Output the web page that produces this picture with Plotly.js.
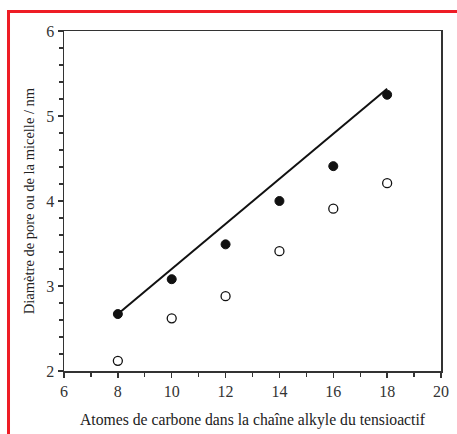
<!DOCTYPE html>
<html>
<head>
<meta charset="utf-8">
<script src="https://cdn.plot.ly/plotly-3.0.1.min.js"></script>
<style>
html,body{margin:0;padding:0;background:#fff;}
#chart{width:457px;height:434px;}
</style>
</head>
<body>
<div id="chart"></div>
<script>
var carbonAtoms = [8, 10, 12, 14, 16, 18];
var poreDiameter = [2.67, 3.08, 3.49, 4.00, 4.41, 5.25];
var micelleDiameter = [2.12, 2.62, 2.88, 3.41, 3.91, 4.21];
var fitX = [8, 18];
var fitY = [2.67, 5.32];
var xTicks = [6, 8, 10, 12, 14, 16, 18, 20];
var yTicks = [2, 3, 4, 5, 6];

var serif = "'Liberation Serif', 'Times New Roman', serif";

var traces = [
  {x: fitX, y: fitY, mode: 'lines', line: {color: '#111', width: 2}, hoverinfo: 'skip'},
  {x: carbonAtoms, y: poreDiameter, mode: 'markers',
   marker: {symbol: 'circle', size: 9, color: '#111', line: {color: '#111', width: 1}}},
  {x: carbonAtoms, y: micelleDiameter, mode: 'markers',
   marker: {symbol: 'circle-open', size: 9, color: '#111', line: {color: '#111', width: 1.3}}}
];

var layout = {
  width: 457, height: 434,
  margin: {l: 64, r: 16, t: 31, b: 63},
  paper_bgcolor: '#fff', plot_bgcolor: '#fff',
  showlegend: false,
  font: {family: serif, color: '#222'},
  xaxis: {
    range: [6, 20], tickvals: xTicks, ticktext: xTicks.map(String),
    ticks: 'outside', ticklen: 5, tickwidth: 1.5, tickcolor: '#333',
    minor: {dtick: 1, tick0: 0, ticks: 'outside', ticklen: 4, tickwidth: 1.2, tickcolor: '#333'},
    showline: true, linecolor: '#333', linewidth: 1.5, mirror: true,
    showgrid: false, zeroline: false,
    tickfont: {family: serif, size: 16, color: '#333'},
    title: {text: 'Atomes de carbone dans la chaîne alkyle du tensioactif', font: {family: serif, size: 15.7, color: '#222'}, standoff: 15}
  },
  yaxis: {
    range: [2, 6], tickvals: yTicks, ticktext: yTicks.map(String),
    ticks: 'outside', ticklen: 5, tickwidth: 1.5, tickcolor: '#333',
    minor: {dtick: 0.2, tick0: 0, ticks: 'outside', ticklen: 4, tickwidth: 1.2, tickcolor: '#333'},
    showline: true, linecolor: '#333', linewidth: 1.5, mirror: true,
    showgrid: false, zeroline: false,
    tickfont: {family: serif, size: 16, color: '#333'},
    title: {text: 'Diamètre de pore ou de la micelle / nm', font: {family: serif, size: 14.5, color: '#222'}, standoff: 8}
  },
  shapes: [
    {type: 'line', xref: 'paper', yref: 'paper', x0: -0.1472, x1: -0.1472, y0: 1.0618, y1: -0.19,
     line: {color: '#ee1c25', width: 3}},
    {type: 'line', xref: 'paper', yref: 'paper', x0: -0.151, x1: 1.05, y0: 1.0574, y1: 1.0574,
     line: {color: '#ee1c25', width: 3}}
  ]
};

Plotly.newPlot('chart', traces, layout, {displayModeBar: false, staticPlot: true});
</script>
</body>
</html>
